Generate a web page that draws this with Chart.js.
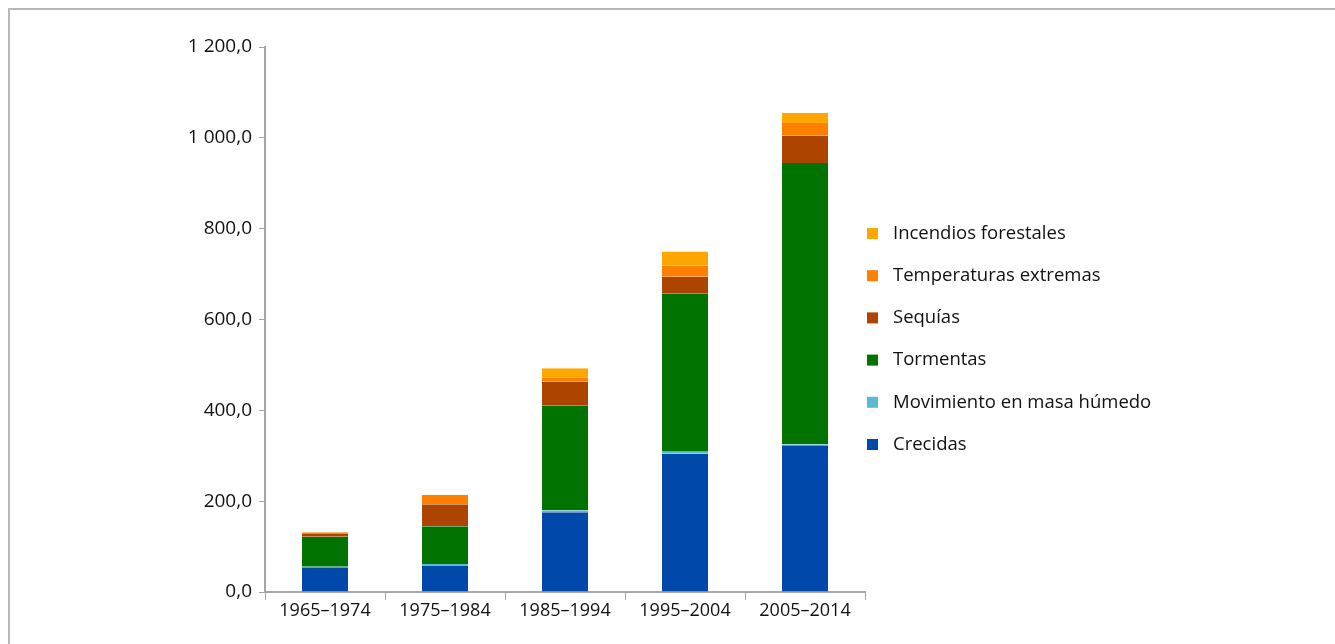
<!DOCTYPE html>
<html>
<head>
<meta charset="utf-8">
<script src="https://cdn.jsdelivr.net/npm/chart.js@4.4.1/dist/chart.umd.min.js"></script>
<style>
  html, body { margin: 0; padding: 0; background: #fff; }
  #wrap { position: relative; width: 1335px; height: 644px; overflow: hidden; }
  #frame { position: absolute; left: 8px; top: 8px; width: 1340px; height: 650px;
           border-left: 2px solid #b8b8b8; border-top: 2px solid #b8b8b8; box-sizing: border-box; }
  canvas { position: absolute; left: 0; top: 0; }
</style>
</head>
<body>
<div id="wrap">
  <div id="frame"></div>
  <canvas id="c" width="1335" height="644"></canvas>
</div>
<script>
const categories = ['1965–1974', '1975–1984', '1985–1994', '1995–2004', '2005–2014'];
const seriesNames = ['Crecidas', 'Movimiento en masa húmedo', 'Tormentas', 'Sequías', 'Temperaturas extremas', 'Incendios forestales'];
const crecidas    = [54.4, 57.2, 175.5, 304.5, 323.0];
const movimiento  = [1.0, 4.4, 4.3, 4.4, 2.3];
const tormentas   = [66.4, 83.0, 231.2, 348.7, 619.3];
const sequias     = [7.4, 48.4, 52.0, 36.6, 60.1];
const temperaturas= [2.2, 20.6, 9.7, 24.2, 28.0];
const incendios   = [0.4, 0.5, 19.8, 31.6, 22.7];
const yTicks = [0, 200, 400, 600, 800, 1000, 1200];

const colors = ['#0049AB', '#5BB9D1', '#007300', '#AD4500', '#FF7F00', '#FFA600'];
const values = [crecidas, movimiento, tormentas, sequias, temperaturas, incendios];

const FONT = '"Open Sans", sans-serif';

function fmt(v) {
  const s = v.toFixed(1).replace('.', ',');
  const [i, d] = s.split(',');
  return i.replace(/\B(?=(\d{3})+(?!\d))/g, ' ') + ',' + d;
}

const legendPlugin = {
  id: 'customLegend',
  afterDraw(chart) {
    const ctx = chart.ctx;
    const ds = chart.data.datasets;
    ctx.save();
    ctx.font = '18.5px ' + FONT;
    ctx.textBaseline = 'middle';
    ctx.textAlign = 'left';
    const n = ds.length;
    for (let k = 0; k < n; k++) {
      const d = ds[n - 1 - k];
      const cy = 233.5 + k * 42.2;
      ctx.fillStyle = d.backgroundColor;
      ctx.fillRect(867, cy - 5.5, 11, 11);
      ctx.fillStyle = '#111111';
      ctx.fillText(d.label, 893, cy);
    }
    ctx.restore();
  }
};

new Chart(document.getElementById('c'), {
  type: 'bar',
  data: {
    labels: categories,
    datasets: seriesNames.map((name, i) => ({
      label: name,
      data: values[i],
      backgroundColor: colors[i],
      borderColor: 'rgba(255,255,255,0.25)',
      borderWidth: { top: 0, bottom: 0, left: 1, right: 1 },
      borderSkipped: false,
      barPercentage: 0.8,
      categoryPercentage: 0.5
    }))
  },
  options: {
    responsive: false,
    animation: false,
    layout: { padding: { left: 0, right: 470, top: 47, bottom: 0 } },
    plugins: { legend: { display: false }, tooltip: { enabled: false } },
    scales: {
      x: {
        stacked: true,
        afterFit: s => { s.height = 52; },
        grid: { display: true, drawOnChartArea: false, drawTicks: true, offset: true, tickLength: 8, color: '#a6a6a6', lineWidth: 1 },
        border: { display: true, color: '#a6a6a6', width: 2 },
        ticks: { color: '#111111', font: { family: FONT, size: 18 }, padding: 0, maxRotation: 0 }
      },
      y: {
        stacked: true,
        min: 0, max: 1200,
        afterFit: s => { s.width = 265; },
        afterBuildTicks: s => { s.ticks = yTicks.map(v => ({ value: v })); },
        grid: { display: true, drawOnChartArea: false, drawTicks: true, tickLength: 6, color: '#a6a6a6', lineWidth: 1 },
        border: { display: true, color: '#a6a6a6', width: 2 },
        ticks: { color: '#111111', font: { family: FONT, size: 19 }, padding: 7, callback: v => fmt(v) }
      }
    }
  },
  plugins: [legendPlugin]
});
</script>
</body>
</html>
